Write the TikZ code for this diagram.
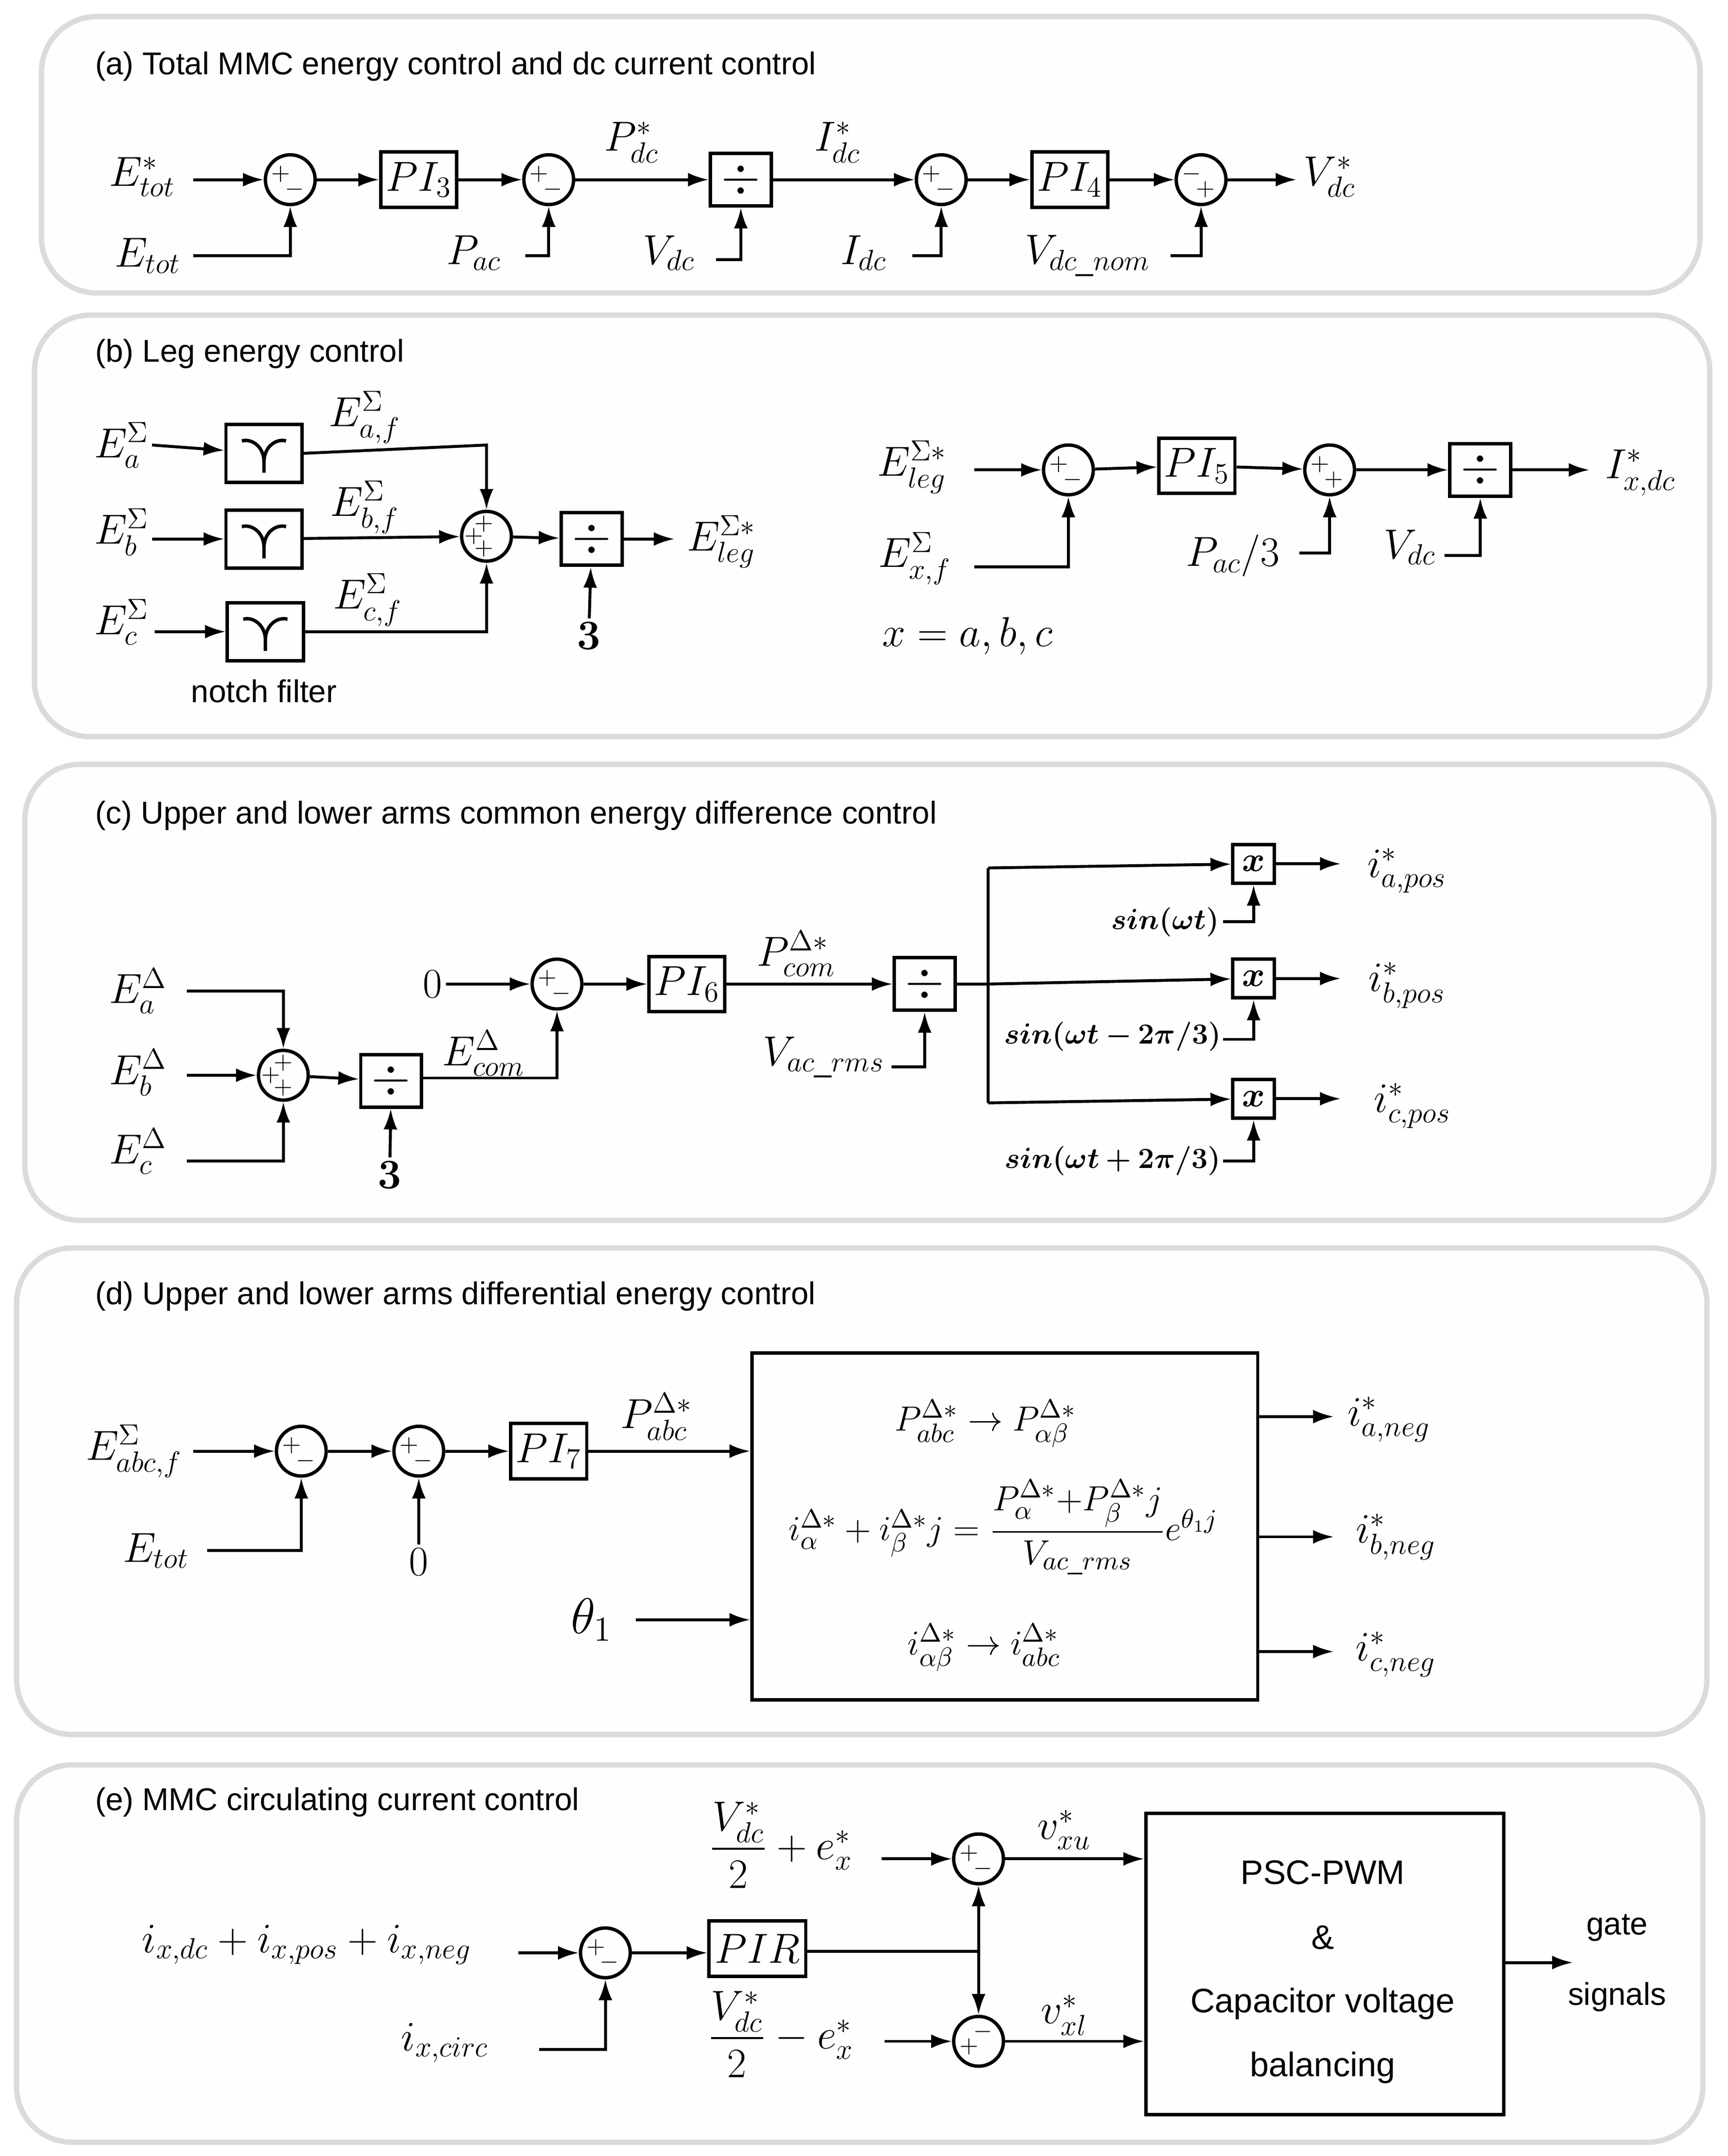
\documentclass[tikz,border=0pt]{standalone}
\usepackage{fontspec}
\usepackage{amsmath,bm}
\setmainfont{Liberation Sans}
\usetikzlibrary{arrows.meta,calc}
\newcommand\jsign[3]{\node[sgn] at ([shift={#2}]#1.center) {$#3$};}
\newcommand\notchsym[1]{\draw[line width=1.4pt] ([shift={(-16,-9)}]#1.center) .. controls +(8,-2) and +(0,-10) .. ([shift={(0,6)}]#1.center) -- ([shift={(0,14)}]#1.center) ([shift={(0,6)}]#1.center) .. controls +(0,-10) and +(-8,-2) .. ([shift={(16,-9)}]#1.center);}
\begin{document}
\begin{tikzpicture}[x=0.02cm,y=-0.02cm,line width=1.2pt,
  >={Latex[length=3mm,width=2mm]},
  panel/.style={draw=black!14,line width=2.2pt,fill=black!2!green!1!white,rounded corners=0.8cm},
  ttl/.style={anchor=west,font=\fontsize{13}{15}\selectfont},
  lab/.style={font=\fontsize{18}{20}\selectfont,inner sep=1pt},
  slab/.style={font=\fontsize{13}{15}\selectfont,inner sep=1pt},
  sum/.style={draw,circle,minimum size=0.72cm,inner sep=0pt,line width=1.4pt},
  blk/.style={draw,line width=1.4pt,minimum width=1.1cm,minimum height=0.8cm,font=\fontsize{18}{20}\selectfont,inner sep=0pt},
  dv/.style={draw,line width=1.4pt,minimum width=0.88cm,minimum height=0.76cm,font=\fontsize{22}{22}\selectfont,inner sep=0pt},
  nb/.style={draw,line width=1.4pt,minimum width=1.1cm,minimum height=0.84cm},
  xb/.style={draw,line width=1.4pt,minimum width=0.6cm,minimum height=0.56cm,font=\fontsize{15}{15}\selectfont,inner sep=0pt},
  sgn/.style={font=\fontsize{10}{10}\selectfont,inner sep=0pt}]
\useasboundingbox (0,0) rectangle (1250,1560);
\fill[white] (0,0) rectangle (1250,1560);
\draw[panel] (30,12) rectangle (1230,212);
\draw[panel] (25,228) rectangle (1237,533);
\draw[panel] (18,553) rectangle (1240,883);
\draw[panel] (12,903) rectangle (1235,1255);
\draw[panel] (12,1277) rectangle (1232,1550);
% (a)
\node[ttl] (ta) at (62,48) {(a) Total MMC energy control and dc current control};
\node[lab] (a1) at (103,128) {$E^*_{tot}$};
\node[lab] (a2) at (107,185) {$E_{tot}$};
\node[sum] (ja1) at (210,130) {}; \jsign{ja1}{(-7,-4)}{+}\jsign{ja1}{(3,7)}{-}
\node[blk] (pi3) at (303,130) {$PI_3$};
\node[sum] (ja2) at (397,130) {}; \jsign{ja2}{(-7,-4)}{+}\jsign{ja2}{(3,7)}{-}
\node[lab] (a3) at (343,183) {$P_{ac}$};
\node[lab] (a4) at (457,103) {$P^*_{dc}$};
\node[dv] (dva) at (536,130) {$\div$};
\node[lab] (a5) at (484,183) {$V_{dc}$};
\node[lab] (a6) at (606,103) {$I^*_{dc}$};
\node[sum] (ja3) at (681,130) {}; \jsign{ja3}{(-7,-4)}{+}\jsign{ja3}{(3,7)}{-}
\node[lab] (a7) at (625,183) {$I_{dc}$};
\node[blk] (pi4) at (774,130) {$PI_4$};
\node[sum] (ja4) at (869,130) {}; \jsign{ja4}{(-7,-4)}{-}\jsign{ja4}{(3,7)}{+}
\node[lab] (a8) at (787,185) {$V_{dc\_nom}$};
\node[lab] (a9) at (962,128) {$V^*_{dc}$};
\draw[->] (140,130) -- (ja1);
\draw[->] (140,185) -| (ja1);
\draw[->] (ja1) -- (pi3); \draw[->] (pi3) -- (ja2);
\draw[->] (380,185) -| (ja2);
\draw[->] (ja2) -- (dva);
\draw[->] (518,188) -| (dva);
\draw[->] (dva) -- (ja3);
\draw[->] (660,185) -| (ja3);
\draw[->] (ja3) -- (pi4); \draw[->] (pi4) -- (ja4);
\draw[->] (847,185) -| (ja4);
\draw[->] (ja4) -- (938,130);
% (b)
\node[ttl] (tb) at (62,256) {(b) Leg energy control};
\node[lab] (b1) at (88,322) {$E^{\Sigma}_{a}$};
\node[lab] (b2) at (88,385) {$E^{\Sigma}_{b}$};
\node[lab] (b3) at (88,450) {$E^{\Sigma}_{c}$};
\node[nb] (n1) at (191,328) {}; \notchsym{n1}
\node[nb] (n2) at (191,390) {}; \notchsym{n2}
\node[nb] (n3) at (192,457) {}; \notchsym{n3}
\node[slab] (nf) at (191,500) {notch filter};
\node[lab] (b4) at (264,302) {$E^{\Sigma}_{a,f}$};
\node[lab] (b5) at (264,367) {$E^{\Sigma}_{b,f}$};
\node[lab] (b6) at (266,434) {$E^{\Sigma}_{c,f}$};
\node[sum] (jb) at (352,388) {}; \jsign{jb}{(-2,-9)}{+}\jsign{jb}{(-9,0)}{+}\jsign{jb}{(-2,9)}{+}
\node[dv] (dvb) at (428,390) {$\div$};
\node[lab] (b7) at (426,460) {$\bm{3}$};
\node[lab] (b8) at (522,392) {$E^{\Sigma*}_{leg}$};
\draw[->] (110,322) -- (n1); \draw[->] (110,390) -- (n2); \draw[->] (112,457) -- (n3);
\draw[->] (n1.east) -- (352,322) -- (jb);
\draw[->] (n2) -- (jb);
\draw[->] (n3.east) -- (352,457) -- (jb);
\draw[->] (jb) -- (dvb); \draw[->] (dvb) -- (488,390);
\draw[->] (b7) -- (dvb);
\node[lab] (b9) at (660,338) {$E^{\Sigma*}_{leg}$};
\node[lab] (b10) at (662,404) {$E^{\Sigma}_{x,f}$};
\node[sum] (jb2) at (773,340) {}; \jsign{jb2}{(-7,-4)}{+}\jsign{jb2}{(3,7)}{-}
\node[blk] (pi5) at (866,337) {$PI_5$};
\node[sum] (jb3) at (962,340) {}; \jsign{jb3}{(-7,-4)}{+}\jsign{jb3}{(3,7)}{+}
\node[lab] (b11) at (892,402) {$P_{ac}/3$};
\node[dv] (dvb2) at (1071,340) {$\div$};
\node[lab] (b12) at (1020,396) {$V_{dc}$};
\node[lab] (b13) at (1187,342) {$I^*_{x,dc}$};
\node[lab] (b14) at (700,460) {$x=a,b,c$};
\draw[->] (705,340) -- (jb2);
\draw[->] (705,410) -| (jb2);
\draw[->] (jb2) -- (pi5); \draw[->] (pi5) -- (jb3);
\draw[->] (940,400) -| (jb3);
\draw[->] (jb3) -- (dvb2);
\draw[->] (1045,402) -| (dvb2);
\draw[->] (dvb2) -- (1150,340);
% (c)
\node[ttl] (tc) at (62,590) {(c) Upper and lower arms common energy difference control};
\node[lab] (c1) at (100,717) {$E^{\Delta}_{a}$};
\node[lab] (c2) at (100,776) {$E^{\Delta}_{b}$};
\node[lab] (c3) at (100,833) {$E^{\Delta}_{c}$};
\node[sum] (jc1) at (205,778) {}; \jsign{jc1}{(0,-9)}{+}\jsign{jc1}{(-9,0)}{+}\jsign{jc1}{(0,9)}{+}
\node[dv] (dvc) at (283,782) {$\div$};
\node[lab] (c4) at (282,850) {$\bm{3}$};
\node[lab] (c5) at (350,762) {$E^{\Delta}_{com}$};
\node[lab] (c6) at (313,712) {$0$};
\node[sum] (jc2) at (403,712) {}; \jsign{jc2}{(-7,-4)}{+}\jsign{jc2}{(3,7)}{-}
\node[blk] (pi6) at (497,712) {$PI_6$};
\node[lab] (c7) at (576,690) {$P^{\Delta*}_{com}$};
\node[dv] (dvc2) at (669,712) {$\div$};
\node[lab] (c8) at (596,765) {$V_{ac\_rms}$};
\node[xb] (x1) at (907,625) {$\bm{x}$};
\node[xb] (x2) at (907,708) {$\bm{x}$};
\node[xb] (x3) at (907,795) {$\bm{x}$};
\node[slab] (s1) at (843,667) {$\bm{sin(\omega t)}$};
\node[slab] (s2) at (805,750) {$\bm{sin(\omega t-2\pi/3)}$};
\node[slab] (s3) at (805,840) {$\bm{sin(\omega t+2\pi/3)}$};
\node[lab] (o1) at (1018,630) {$i^*_{a,pos}$};
\node[lab] (o2) at (1018,713) {$i^*_{b,pos}$};
\node[lab] (o3) at (1022,800) {$i^*_{c,pos}$};
\draw[->] (135,717) -| (jc1);
\draw[->] (135,778) -- (jc1);
\draw[->] (135,840) -| (jc1);
\draw[->] (jc1) -- (dvc);
\draw[->] (c4) -- (dvc);
\draw[->] (dvc.east |- 0,780) -- (403,780) -- (jc2);
\draw[->] (c6) -- (jc2);
\draw[->] (jc2) -- (pi6); \draw[->] (pi6) -- (dvc2);
\draw[->] (645,772) -| (dvc2);
\coordinate (br) at (715,712);
\draw (dvc2) -- (br);
\draw[->] (715,628) -- (x1); \draw (715,628) -- (715,798);
\draw[->] (br) -- (x2);
\draw[->] (715,798) -- (x3);
\draw[->] (885,667) -| (x1); \draw[->] (885,752) -| (x2); \draw[->] (885,840) -| (x3);
\draw[->] (x1) -- (970,625); \draw[->] (x2) -- (970,708); \draw[->] (x3) -- (970,795);
% (d)
\node[ttl] (td) at (62,938) {(d) Upper and lower arms differential energy control};
\node[lab] (d1) at (97,1050) {$E^{\Sigma}_{abc,f}$};
\node[lab] (d2) at (113,1122) {$E_{tot}$};
\node[sum] (jd1) at (218,1050) {}; \jsign{jd1}{(-7,-4)}{+}\jsign{jd1}{(3,7)}{-}
\node[sum] (jd2) at (303,1050) {}; \jsign{jd2}{(-7,-4)}{+}\jsign{jd2}{(3,7)}{-}
\node[lab] (d3) at (303,1130) {$0$};
\node[blk] (pi7) at (397,1050) {$PI_7$};
\node[lab] (d4) at (475,1025) {$P^{\Delta*}_{abc}$};
\node[draw,line width=1.4pt,minimum width=7.32cm,minimum height=5.02cm] (big) at (727,1104.5) {};
\node[font=\fontsize{15}{17}\selectfont] (e1) at (713,1030) {$P^{\Delta*}_{abc}\rightarrow P^{\Delta*}_{\alpha\beta}$};
\node[font=\fontsize{15}{17}\selectfont] (e2) at (726,1105) {$i^{\Delta*}_{\alpha}+i^{\Delta*}_{\beta}j=\dfrac{P^{\Delta*}_{\alpha}{+}P^{\Delta*}_{\beta}j}{V_{ac\_rms}}e^{\theta_1 j}$};
\node[font=\fontsize{15}{17}\selectfont] (e3) at (712,1192) {$i^{\Delta*}_{\alpha\beta}\rightarrow i^{\Delta*}_{abc}$};
\node[lab,font=\fontsize{21}{23}\selectfont] (d5) at (428,1172) {$\theta_1$};
\node[lab] (d6) at (1005,1027) {$i^*_{a,neg}$};
\node[lab] (d7) at (1010,1112) {$i^*_{b,neg}$};
\node[lab] (d8) at (1010,1197) {$i^*_{c,neg}$};
\draw[->] (140,1050) -- (jd1);
\draw[->] (150,1122) -| (jd1);
\draw[->] (jd1) -- (jd2);
\draw[->] (d3) -- (jd2);
\draw[->] (jd2) -- (pi7);
\draw[->] (pi7.east) -- (big.west |- 0,1050);
\draw[->] (460,1172) -- (big.west |- 0,1172);
\draw[->] (big.east |- 0,1025) -- (965,1025);
\draw[->] (big.east |- 0,1112) -- (965,1112);
\draw[->] (big.east |- 0,1195) -- (965,1195);
% (e)
\node[ttl] (te) at (62,1304) {(e) MMC circulating current control};
\node[lab,font=\fontsize{17}{19}\selectfont] (f1) at (565,1335) {$\dfrac{V^*_{dc}}{2}+e^*_x$};
\node[lab,font=\fontsize{17}{19}\selectfont] (f2) at (565,1472) {$\dfrac{V^*_{dc}}{2}-e^*_x$};
\node[lab] (f3) at (222,1407) {$i_{x,dc}+i_{x,pos}+i_{x,neg}$};
\node[lab] (f4) at (322,1478) {$i_{x,circ}$};
\node[sum] (je1) at (438,1413) {}; \jsign{je1}{(-7,-4)}{+}\jsign{je1}{(3,7)}{-}
\node[blk,minimum width=1.4cm] (pir) at (548,1410) {$PIR$};
\node[sum] (je2) at (708,1345) {}; \jsign{je2}{(-7,-4)}{+}\jsign{je2}{(3,7)}{-}
\node[sum] (je3) at (708,1477) {}; \jsign{je3}{(3,-7)}{-}\jsign{je3}{(-7,4)}{+}
\node[lab] (f5) at (770,1324) {$v^*_{xu}$};
\node[lab] (f6) at (770,1458) {$v^*_{xl}$};
\node[draw,line width=1.4pt,minimum width=5.18cm,minimum height=4.36cm] (psc) at (958.5,1421) {};
\node[font=\fontsize{14}{16}\selectfont] (g1) at (957,1355) {PSC-PWM};
\node[font=\fontsize{14}{16}\selectfont] (g2) at (957,1402) {\&};
\node[font=\fontsize{14}{16}\selectfont] (g3) at (957,1450) {Capacitor voltage};
\node[font=\fontsize{14}{16}\selectfont] (g4) at (957,1496) {balancing};
\node[slab] (g5) at (1170,1395) {gate};
\node[slab] (g6) at (1170,1445) {signals};
\draw[->] (375,1413) -- (je1);
\draw[->] (390,1483) -| (je1);
\draw[->] (je1) -- (pir.west |- je1);
\coordinate (bp) at (708,1412);
\draw (pir.east |- bp) -- (bp);
\draw[->] (bp) -- (je2);
\draw[->] (bp) -- (je3);
\draw[->] (638,1345) -- (je2);
\draw[->] (640,1477) -- (je3);
\draw[->] (je2) -- (psc.west |- je2);
\draw[->] (je3) -- (psc.west |- je3);
\draw[->] (psc.east |- 0,1420) -- (1138,1420);
\end{tikzpicture}
\end{document}
